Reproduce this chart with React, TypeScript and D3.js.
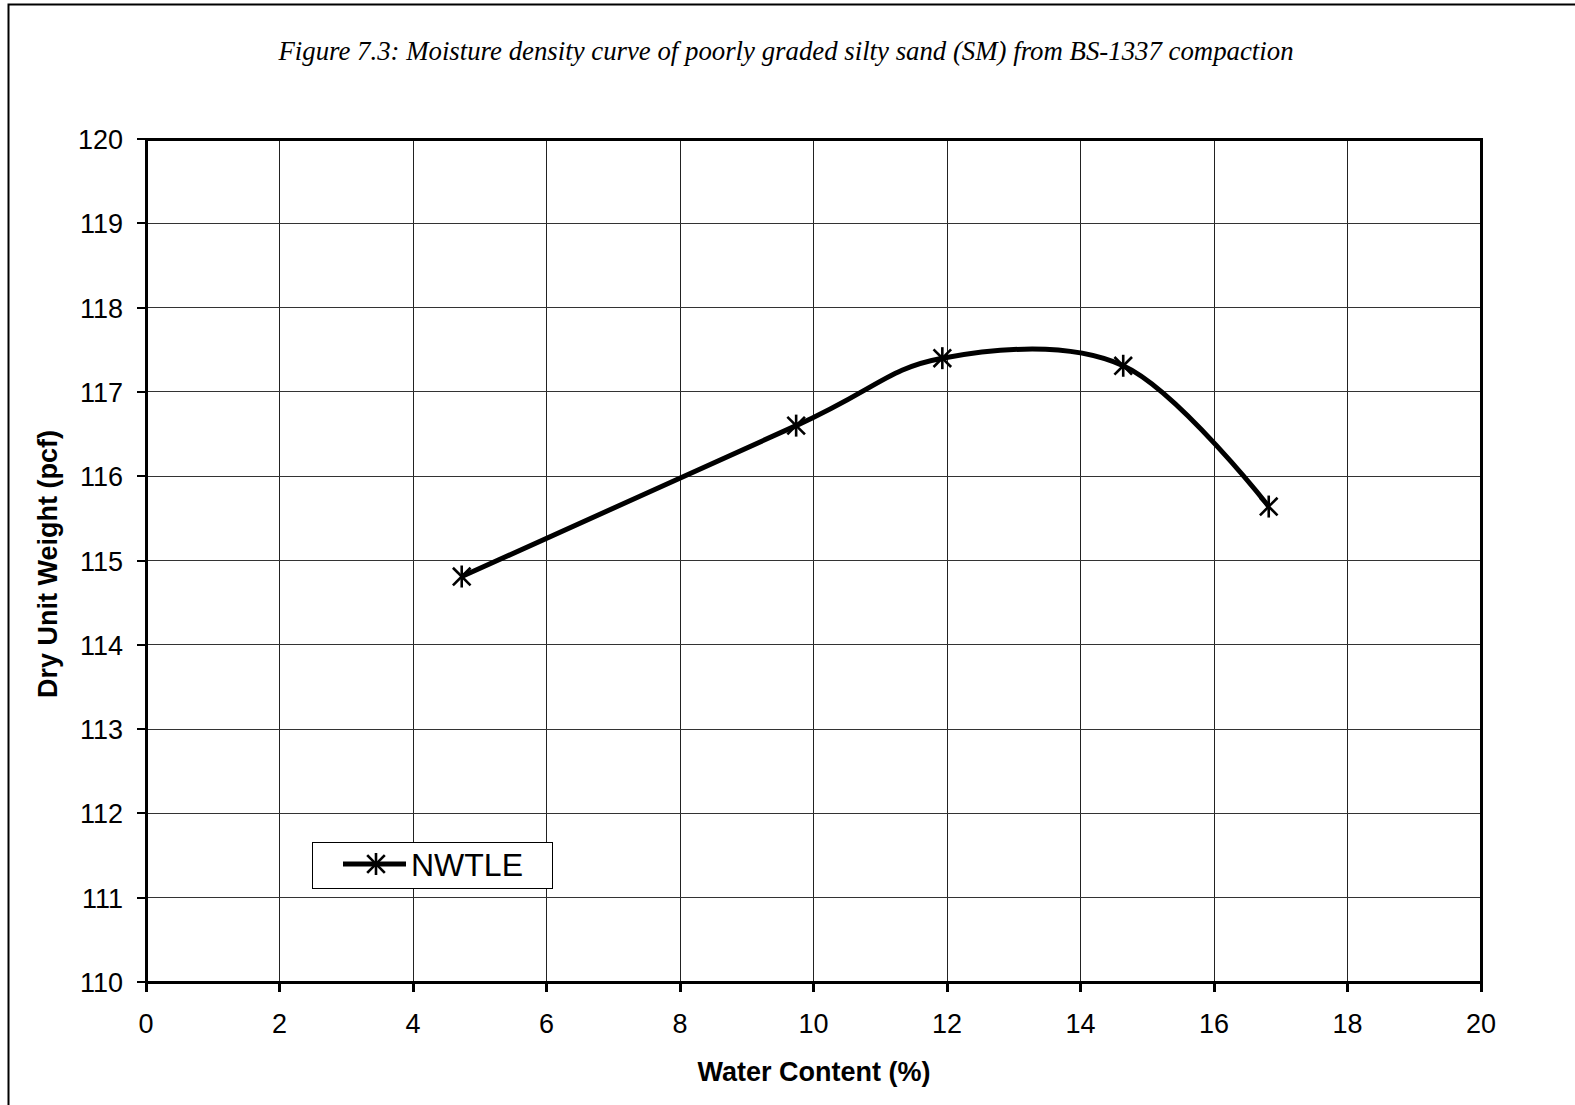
import React from "react";
import * as d3 from "d3";

const titleText = "Figure 7.3: Moisture density curve of poorly graded silty sand (SM) from BS-1337 compaction";
const xAxisTitle = "Water Content (%)";
const yAxisTitle = "Dry Unit Weight (pcf)";
const seriesName = "NWTLE";
const xTicks = [0, 2, 4, 6, 8, 10, 12, 14, 16, 18, 20];
const yTicks = [110, 111, 112, 113, 114, 115, 116, 117, 118, 119, 120];
const waterContent = [4.73, 9.74, 11.93, 14.64, 16.82];
const dryUnitWeight = [114.81, 116.6, 117.4, 117.31, 115.64];

const W = 1575, H = 1105;
const L = 146, R = 1481, T = 139, B = 982;

function Star({ x, y, s = 11 }: { x: number; y: number; s?: number }) {
  const d = s * 0.8;
  return (
    <g stroke="#000" strokeWidth={2.6} fill="none">
      <line x1={x} y1={y - s} x2={x} y2={y + s} />
      <line x1={x - d} y1={y - d} x2={x + d} y2={y + d} />
      <line x1={x - d} y1={y + d} x2={x + d} y2={y - d} />
    </g>
  );
}

export default function App() {
  const x = d3.scaleLinear().domain([0, 20]).range([L, R]);
  const y = d3.scaleLinear().domain([110, 120]).range([B, T]);
  const pts: [number, number][] = waterContent.map((w, i) => [x(w), y(dryUnitWeight[i])]);
  const path = d3.line().curve(d3.curveCardinal.tension(0))(pts) || "";
  const font = "Arial, 'Liberation Sans', sans-serif";
  return (
    <svg width={W} height={H} style={{ position: "absolute", left: 0, top: 0, background: "#fff" }}>
      <rect x={0} y={0} width={W} height={H} fill="#fff" />
      <path d={`M8.5,${H + 10} L8.5,4.5 L${W + 10},4.5`} fill="none" stroke="#000" strokeWidth={2} />
      <text x={786} y={60} textAnchor="middle" fontFamily="'Liberation Serif', 'Times New Roman', serif" fontStyle="italic" fontSize={26.8}>{titleText}</text>
      <g shapeRendering="crispEdges">
        {xTicks.slice(1, -1).map((t) => (
          <line key={"gx" + t} x1={x(t)} x2={x(t)} y1={T} y2={B} stroke="#222" strokeWidth={1} />
        ))}
        {yTicks.slice(1, -1).map((t) => (
          <line key={"gy" + t} x1={L} x2={R} y1={y(t)} y2={y(t)} stroke="#333" strokeWidth={1} />
        ))}
        {xTicks.map((t) => (
          <line key={"tx" + t} x1={x(t)} x2={x(t)} y1={B} y2={B + 10} stroke="#000" strokeWidth={3} />
        ))}
        {yTicks.map((t) => (
          <line key={"ty" + t} x1={L - 9} x2={L} y1={y(t)} y2={y(t)} stroke="#000" strokeWidth={2} />
        ))}
        <rect x={L} y={T} width={R - L} height={B - T} fill="none" stroke="#000" strokeWidth={3} />
      </g>
      {xTicks.map((t) => (
        <text key={"lx" + t} x={x(t)} y={1033} textAnchor="middle" fontFamily={font} fontSize={27}>{t}</text>
      ))}
      {yTicks.map((t) => (
        <text key={"ly" + t} x={123} y={y(t) + 10} textAnchor="end" fontFamily={font} fontSize={27}>{t}</text>
      ))}
      <text x={814} y={1081} textAnchor="middle" fontFamily={font} fontWeight="bold" fontSize={27}>{xAxisTitle}</text>
      <text transform={`translate(57,564) rotate(-90)`} textAnchor="middle" fontFamily={font} fontWeight="bold" fontSize={27}>{yAxisTitle}</text>
      <path d={path} fill="none" stroke="#000" strokeWidth={5} strokeLinejoin="round" />
      {pts.map(([px, py], i) => (
        <Star key={"m" + i} x={px} y={py} />
      ))}
      <rect x={312.5} y={842.5} width={240} height={46} fill="#fff" stroke="#000" strokeWidth={1} />
      <line x1={343} x2={406} y1={864} y2={864} stroke="#000" strokeWidth={5} />
      <Star x={376} y={864} />
      <text x={411} y={876} fontFamily={font} fontSize={32}>{seriesName}</text>
    </svg>
  );
}
